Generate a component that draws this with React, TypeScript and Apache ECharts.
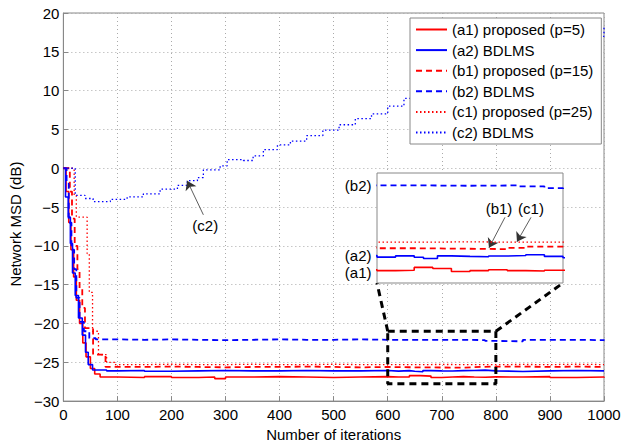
import React, { useEffect, useRef } from "react";
import * as echarts from "echarts";

type Pt = [number, number];

// x ticks / y ticks
const xTickValues = [0, 100, 200, 300, 400, 500, 600, 700, 800, 900, 1000];
const yTickValues = [-30, -25, -20, -15, -10, -5, 0, 5, 10, 15, 20];

// (a1) proposed (p=5) — red solid
const a1Proposed5: Pt[] = [
  [0, 0], [5, -3], [10, -7], [14, -10.5], [19, -14], [24, -17], [30, -20], [36, -22.5], [42, -24.3],
  [50, -25.8], [58, -26.5], [68, -26.9], [100, -26.95], [150, -26.85], [200, -26.95], [250, -26.9],
  [280, -27.1], [300, -26.9], [350, -26.85], [400, -26.9], [450, -26.95], [500, -26.9], [550, -26.85],
  [600, -26.9], [620, -26.88], [640, -26.72], [660, -26.78], [680, -26.95], [700, -26.9], [720, -26.85],
  [740, -26.9], [760, -26.92], [780, -26.88], [800, -26.9], [850, -26.85], [900, -26.95], [950, -26.9],
  [1000, -27.0],
];

// (a2) BDLMS — blue solid
const a2Bdlms: Pt[] = [
  [0, 0], [4, -3.7], [9, -6.3], [13, -9.7], [17, -13.5], [22, -16.4], [28, -19.3], [35, -21.5],
  [41, -23.7], [46, -25.3], [54, -26.0], [80, -26.1], [100, -26.05], [150, -26.15], [200, -26.1],
  [250, -26.05], [300, -26.1], [350, -26.1], [400, -26.05], [450, -26.1], [500, -26.1], [550, -26.05],
  [600, -26.14], [620, -26.07], [640, -26.15], [650, -26.22], [665, -26.07], [680, -26.1], [700, -26.12],
  [720, -26.08], [740, -26.05], [760, -26.01], [780, -26.1], [800, -26.18], [850, -26.1], [900, -26.05],
  [950, -26.1], [1000, -26.05],
];

// (b1) proposed (p=15) — red dashed
const b1Proposed15: Pt[] = [
  [0, 0], [12, -3], [16, -6.5], [21, -10], [26, -13], [30, -15.5], [35, -18], [40, -20.6], [55, -24],
  [78, -25.6], [100, -25.6], [150, -25.55], [200, -25.6], [250, -25.65], [300, -25.6], [350, -25.6],
  [400, -25.55], [450, -25.6], [500, -25.65], [550, -25.6], [600, -25.64], [640, -25.66], [680, -25.68],
  [720, -25.69], [740, -25.62], [760, -25.55], [800, -25.56], [850, -25.6], [900, -25.55], [950, -25.6],
  [1000, -25.6],
];

// (b2) BDLMS — blue dashed
const b2Bdlms: Pt[] = [
  [0, 0], [6, -2], [10, -7], [15, -10.5], [20, -13], [24, -16.7], [30, -19.8], [38, -21], [48, -21.9],
  [60, -22.05], [100, -22.1], [150, -22.05], [200, -22.1], [250, -22.15], [300, -22.1], [350, -22.05],
  [400, -22.1], [450, -22.1], [500, -22.05], [550, -22.1], [600, -22.1], [650, -22.12], [700, -22.1],
  [750, -22.15], [780, -22.25], [800, -22.3], [850, -22.1], [900, -22.1], [950, -22.15], [1000, -22.05],
];

// (c1) proposed (p=25) — red dotted
const c1Proposed25: Pt[] = [
  [0, 0], [20, -3.5], [24, -6.3], [44, -11], [48, -16], [54, -21], [65, -24], [80, -25], [95, -25.3],
  [150, -25.25], [200, -25.3], [250, -25.3], [300, -25.25], [350, -25.3], [400, -25.3], [450, -25.25],
  [500, -25.3], [550, -25.3], [600, -25.3], [650, -25.28], [700, -25.3], [750, -25.3], [800, -25.28],
  [850, -25.3], [900, -25.25], [950, -25.3], [1000, -25.3],
];

// (c2) BDLMS — blue dotted
const c2Bdlms: Pt[] = [
  [0, 0], [22, -3.5], [40, -3.9], [55, -4.3], [87, -4.0], [118, -3.7], [148, -3.3], [179, -2.7],
  [211, -2.2], [229, -1.6], [248, -1.2], [259, -0.2], [290, 0.3], [303, 1.1], [333, 1.0], [351, 1.6],
  [370, 2.4], [396, 3.0], [420, 3.5], [450, 4.2], [480, 4.9], [510, 5.6], [540, 6.4], [570, 7.0],
  [600, 8.0], [630, 9.0], [660, 10.0], [700, 11.0], [750, 12.3], [800, 13.5], [850, 14.6], [900, 15.8],
  [950, 17.0], [1000, 18.3],
];

// zoom window of the inset
const zoomX: number[] = [600, 800];
const zoomY: number[] = [-27.75, -21];
const insetY: number[] = [-27.6, -21.4];

const RED = "#ff0000";
const BLUE = "#0000ff";
const DASH = [6, 4];
const DOT = [1.5, 2.5];

const defs = [
  { name: "(a1) proposed (p=5)", data: a1Proposed5, color: RED, type: "solid" as any, width: 1.6 },
  { name: "(a2) BDLMS", data: a2Bdlms, color: BLUE, type: "solid" as any, width: 1.6 },
  { name: "(b1) proposed (p=15)", data: b1Proposed15, color: RED, type: DASH as any, width: 1.8 },
  { name: "(b2) BDLMS", data: b2Bdlms, color: BLUE, type: DASH as any, width: 1.8 },
  { name: "(c1) proposed (p=25)", data: c1Proposed25, color: RED, type: DOT as any, width: 1.3 },
  { name: "(c2) BDLMS", data: c2Bdlms, color: BLUE, type: DOT as any, width: 1.3 },
];

const FONT = "'Liberation Sans', Arial, Helvetica, sans-serif";
const MAIN = { left: 63, right: 32, top: 13, bottom: 40 };
const INSET = { left: 377, top: 173, width: 186, height: 110 };

const lbl = {
  color: "#000",
  fontSize: 15,
  fontFamily: FONT,
};

const arrowLine = (from: number[], to: number[]) => ({
  silent: true,
  symbol: ["none", "arrow"],
  symbolSize: 9,
  lineStyle: { color: "#333", width: 0.8, type: "solid" },
  label: { show: false },
  data: [[{ coord: from }, { coord: to }]],
});

const textPoint = (txt: string, coord: number[], position: string) => ({
  coord,
  symbol: "circle",
  symbolSize: 1,
  itemStyle: { color: "rgba(0,0,0,0)" },
  label: { show: true, position, distance: 5, formatter: txt, ...lbl },
});

export default function App() {
  const ref = useRef<HTMLDivElement>(null);
  useEffect(() => {
    if (!ref.current) return;
    const chart = echarts.init(ref.current, undefined, { renderer: "svg" });

    const mainSeries: any[] = defs.map((d, i) => {
      const s: any = {
        name: d.name,
        type: "line",
        xAxisIndex: 0,
        yAxisIndex: 0,
        data: d.data,
        step: "end",
        symbol: "none",
        z: 2,
        lineStyle: { color: d.color, width: d.width, type: d.type },
        itemStyle: { color: d.color },
      };
      if (i === 5) {
        s.markLine = arrowLine([259, -6.0], [229, -1.6]);
        s.markPoint = { silent: true, data: [textPoint("(c2)", [262.5, -7.4], "inside")] };
      }
      return s;
    });

    const insetSeries: any[] = defs
      .filter((_, i) => i !== 5)
      .map((d) => {
        const s: any = {
          name: d.name,
          type: "line",
          xAxisIndex: 1,
          yAxisIndex: 1,
          data: d.data.filter((p) => p[0] >= 540 && p[0] <= 860),
          step: "end",
          symbol: "none",
          z: 6,
          lineStyle: { color: d.color, width: d.width, type: d.type },
          itemStyle: { color: d.color },
        };
        if (d.name === "(b2) BDLMS") {
          s.markPoint = { silent: true, data: [textPoint("(b2)", [zoomX[0], -22.1], "left")] };
        }
        if (d.name === "(a2) BDLMS") {
          s.markPoint = { silent: true, data: [textPoint("(a2)", [zoomX[0], -26.05], "left")] };
        }
        if (d.name === "(a1) proposed (p=5)") {
          s.markPoint = { silent: true, data: [textPoint("(a1)", [zoomX[0], -26.98], "left")] };
        }
        if (d.name === "(b1) proposed (p=15)") {
          s.markLine = arrowLine([737.6, -23.9], [720.4, -25.62]);
          s.markPoint = { silent: true, data: [textPoint("(b1)", [731.2, -23.39], "inside")] };
        }
        if (d.name === "(c1) proposed (p=25)") {
          s.markLine = arrowLine([765.6, -23.9], [750.5, -25.28]);
          s.markPoint = { silent: true, data: [textPoint("(c1)", [765.6, -23.39], "inside")] };
        }
        return s;
      });

    const boxSeries = {
      name: "zoom",
      type: "line",
      xAxisIndex: 0,
      yAxisIndex: 0,
      symbol: "none",
      z: 3,
      silent: true,
      data: [
        [zoomX[0], zoomY[1]],
        [zoomX[1], zoomY[1]],
        [zoomX[1], zoomY[0]],
        [zoomX[0], zoomY[0]],
        [zoomX[0], zoomY[1]],
      ],
      lineStyle: { color: "#000", width: 3, type: [7, 5] },
    };

    const minus = (v: number) => String(v).replace("-", "\u2212");

    chart.setOption({
      animation: false,
      textStyle: { fontFamily: FONT },
      grid: [
        {
          ...MAIN,
          show: true,
          borderColor: "#888",
          borderWidth: 1,
          backgroundColor: "transparent",
          containLabel: false,
        },
        {
          ...INSET,
          show: true,
          borderColor: "#888",
          borderWidth: 1,
          backgroundColor: "#fff",
          z: 5,
        },
      ],
      legend: {
        data: defs.map((d) => d.name),
        orient: "vertical",
        left: 410,
        top: 18,
        padding: [4, 8, 4, 5],
        itemWidth: 31,
        itemHeight: 14,
        itemGap: 5.6,
        backgroundColor: "#fff",
        borderColor: "#888",
        borderWidth: 1,
        borderRadius: 0,
        itemStyle: { color: "rgba(0,0,0,0)", borderWidth: 0, opacity: 0 },
        textStyle: { ...lbl, padding: [0, 0, 0, 0] },
        selectedMode: false,
        z: 4,
      },
      xAxis: [
        {
          type: "value",
          gridIndex: 0,
          min: xTickValues[0],
          max: xTickValues[xTickValues.length - 1],
          interval: 100,
          name: "Number of iterations",
          nameLocation: "middle",
          nameGap: 23,
          nameTextStyle: lbl,
          axisLine: { show: true, onZero: false, lineStyle: { color: "#888" } },
          axisTick: { show: true, inside: true, length: 5, lineStyle: { color: "#888" } },
          axisLabel: { ...lbl, margin: 6, formatter: (v: number) => String(v) },
          splitLine: { show: true, lineStyle: { color: "#aaa", type: [1, 3], width: 1 } },
        },
        {
          type: "value",
          gridIndex: 1,
          min: zoomX[0],
          max: zoomX[1],
          show: false,
          splitLine: { show: false },
        },
      ],
      yAxis: [
        {
          type: "value",
          gridIndex: 0,
          min: yTickValues[0],
          max: yTickValues[yTickValues.length - 1],
          interval: 5,
          name: "Network MSD (dB)",
          nameLocation: "middle",
          nameGap: 33,
          nameTextStyle: { ...lbl, padding: [0, 34, 0, 0] },
          axisLine: { show: true, onZero: false, lineStyle: { color: "#888" } },
          axisTick: { show: true, inside: true, length: 5, lineStyle: { color: "#888" } },
          axisLabel: { ...lbl, margin: 4, formatter: minus },
          splitLine: { show: true, lineStyle: { color: "#aaa", type: [1, 3], width: 1 } },
        },
        {
          type: "value",
          gridIndex: 1,
          min: insetY[0],
          max: insetY[1],
          show: false,
          splitLine: { show: false },
        },
      ],
      series: [...mainSeries, boxSeries, ...insetSeries],
    });

    const tl = chart.convertToPixel({ gridIndex: 0 }, [zoomX[0], zoomY[1]]) as number[];
    const tr = chart.convertToPixel({ gridIndex: 0 }, [zoomX[1], zoomY[1]]) as number[];
    const bl = [INSET.left, INSET.top + INSET.height];
    const br = [INSET.left + INSET.width, INSET.top + INSET.height];
    const conn = { stroke: "#000", lineWidth: 3, lineDash: [7, 5] };
    chart.setOption({
      graphic: [
        { type: "line", z: 4, silent: true, shape: { x1: tl[0], y1: tl[1], x2: bl[0], y2: bl[1] }, style: conn },
        { type: "line", z: 4, silent: true, shape: { x1: tr[0], y1: tr[1], x2: br[0], y2: br[1] }, style: conn },
      ],
    });

    return () => chart.dispose();
  }, []);

  return (
    <div
      ref={ref}
      style={{ position: "fixed", left: 0, top: 0, width: "636px", height: "447px", background: "#fff" }}
    />
  );
}
